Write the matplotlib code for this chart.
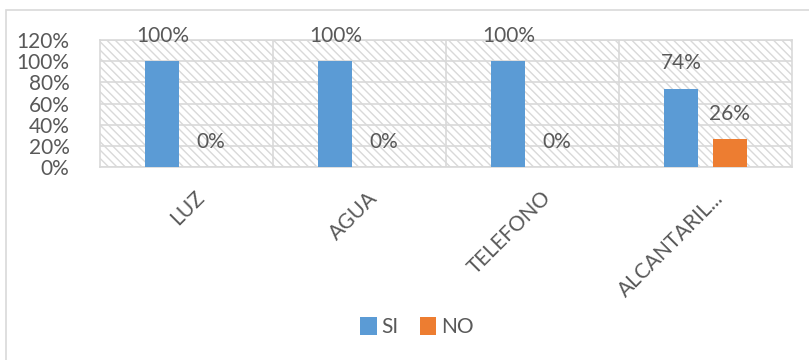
import matplotlib
matplotlib.use("Agg")
import numpy as np
import matplotlib.pyplot as plt
import matplotlib.transforms as mtransforms
from matplotlib.patches import Rectangle
from matplotlib.ticker import PercentFormatter, FixedLocator

categories = ["LUZ", "AGUA", "TELEFONO", "ALCANTARIL..."]
si_values = [100, 100, 100, 74]
no_values = [0, 0, 0, 26]
y_ticks = [0, 20, 40, 60, 80, 100, 120]

BLUE = "#5B9BD5"
ORANGE = "#ED7D31"
TEXT = "#595959"
GRID = "#D9D9D9"
FS = 15

plt.rcParams.update({
    "font.family": ["Lato", "DejaVu Sans"],
    "font.size": FS,
    "hatch.color": GRID,
    "hatch.linewidth": 1.0,
})

fig = plt.figure(figsize=(8.09, 3.6), dpi=100)

# chart frame (only its top and left edges fall inside the image)
fig.patches.append(Rectangle((6 / 809, -0.5), 1.5, 1.5 - 10 / 360,
                             transform=fig.transFigure, fill=False,
                             edgecolor=GRID, linewidth=1.2, zorder=0))

ax = fig.add_axes([100 / 809, 1 - 167 / 360, 692 / 809, 127 / 360])
ax.patch.set_facecolor("white")
ax.patch.set_hatch("\\\\\\\\")
ax.patch.set_edgecolor(GRID)

x = np.arange(len(categories))
w = 0.195
off = 0.14
bars_si = ax.bar(x - off, si_values, w, color=BLUE, label="SI", zorder=3)
bars_no = ax.bar(x + off, no_values, w, color=ORANGE, label="NO", zorder=3)

for bars in (bars_si, bars_no):
    for b in bars:
        h = b.get_height()
        ax.annotate(f"{h:.0f}%", xy=(b.get_x() + b.get_width() / 2, h),
                    xytext=(0, 11), textcoords="offset points",
                    ha="center", va="bottom", color=TEXT, fontsize=FS,
                    zorder=4, annotation_clip=False)

ax.set_xlim(-0.5, len(categories) - 0.5)
ax.set_ylim(0, 120)
ax.set_yticks(y_ticks)
ax.yaxis.set_major_formatter(PercentFormatter(decimals=0))
ax.xaxis.set_minor_locator(FixedLocator([0.5, 1.5, 2.5]))
ax.grid(axis="y", which="major", color=GRID, linewidth=1.2, zorder=1)
ax.grid(axis="x", which="minor", color=GRID, linewidth=1.2, zorder=1)
ax.set_axisbelow(True)

for s in ax.spines.values():
    s.set_color(GRID)
    s.set_linewidth(1.2)

ax.tick_params(axis="both", which="both", length=0, colors=TEXT, labelsize=FS)
ax.tick_params(axis="y", pad=22)
ax.set_xticks(x)
ax.set_xticklabels(categories, rotation=45, ha="right", va="center",
                   rotation_mode="anchor")
ax.tick_params(axis="x", pad=20)
shift = mtransforms.ScaledTranslation(15 / 100, 0, fig.dpi_scale_trans)
for lbl in ax.get_xticklabels():
    lbl.set_transform(lbl.get_transform() + shift)

fig.legend(handles=[bars_si, bars_no], labels=["SI", "NO"], loc="center",
           bbox_to_anchor=(417 / 809, 1 - 327 / 360), ncol=2, frameon=False,
           handlelength=0.8, handleheight=1.0, handletextpad=0.25,
           columnspacing=1.0, labelcolor=TEXT, fontsize=FS)

fig.savefig("out.png", dpi=100, facecolor="white")
